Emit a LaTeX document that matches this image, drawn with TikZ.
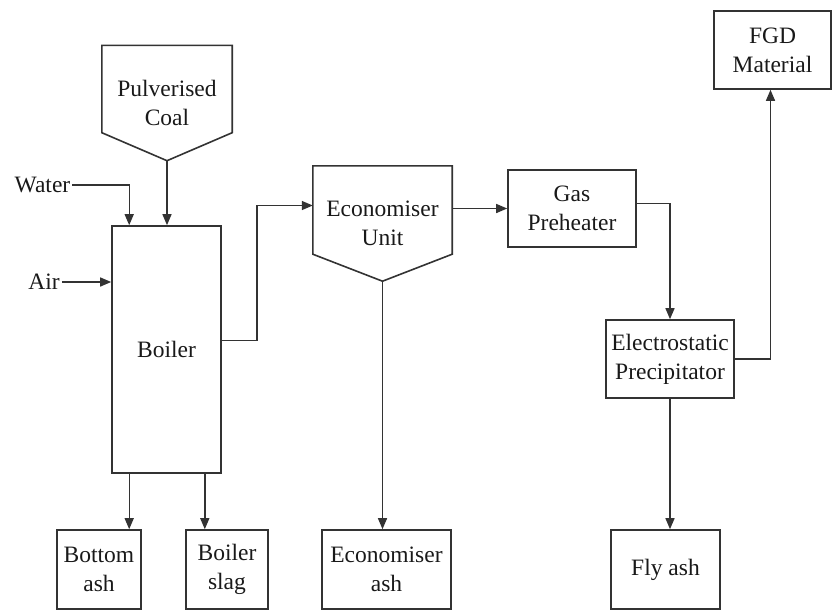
\documentclass[tikz,border=0pt]{standalone}
\usepackage{fontspec}
\setmainfont{Liberation Serif}
\usetikzlibrary{arrows.meta,positioning}
\colorlet{ink}{black!80}
\tikzset{
  box/.style={draw=ink, line width=1.6pt},
  blk/.style={box, align=center, inner sep=2pt, text=black!90, font=\fontsize{23.5}{29}\selectfont},
  hopper/.style={align=center, inner sep=2pt, text=black!90, font=\fontsize{23.5}{29}\selectfont},
  txt/.style={inner sep=2pt, text=black!90, font=\fontsize{23.5}{29}\selectfont},
  flow/.style={draw=ink, line width=1.4pt, -{Triangle[length=11pt,width=9pt]}},
  pipe/.style={draw=ink, line width=1.4pt}}

\begin{document}
\begin{tikzpicture}[x=1pt,y=-1pt]
  \useasboundingbox (0,0) rectangle (833,611);

  \node [hopper, minimum width=130pt, minimum height=115pt] (coal) at (167,103) {Pulverised\\Coal};
  \node [hopper, minimum width=139pt, minimum height=115pt] (econ) at (382.5,223.5) {Economiser\\Unit};
  \foreach \n/\d in {coal/28pt, econ/27pt}
    \draw [box] (\n.north west) -- (\n.north east) -- ([yshift=\d]\n.south east) -- (\n.south) -- ([yshift=\d]\n.south west) -- cycle;

  \node [blk, minimum width=109pt, minimum height=247pt] (boiler) at (166.5,349.5) {Boiler};
  \node [blk, minimum width=128pt, minimum height=77pt] (gas) at (572,208.5) {Gas\\Preheater};
  \node [blk, minimum width=128pt, minimum height=78pt] (esp) at (670,359) {Electrostatic\\Precipitator};
  \node [blk, minimum width=117pt, minimum height=78pt] (fgd) at (772.5,50) {FGD\\Material};

  \node [blk, minimum width=84pt, minimum height=79pt] (botash) at (99,569.5) {Bottom\\ash};
  \node [blk, minimum width=82pt, minimum height=79pt] (slag) at (227,569.5) {Boiler\\slag};
  \node [blk, minimum width=129pt, minimum height=79pt] (ecash) at (386.5,569.5) {Economiser\\ash};
  \node [blk, minimum width=109pt, minimum height=79pt] (flyash) at (665.5,569.5) {Fly ash};

  \node [txt] (water) at (42.5,185) {Water};
  \node [txt] (air) at (44,282) {Air};

  \coordinate (win) at ([xshift=18pt]boiler.north west);
  \coordinate (bout1) at ([xshift=18pt]boiler.south west);
  \coordinate (bout2) at ([xshift=-17pt]boiler.south east);

  \draw [flow] (water.east) -| (win);
  \draw [flow] (air.east) -- (air.east -| boiler.west);
  \draw [flow] (coal.south) -- (coal.south |- boiler.north);
  \draw [flow] ([yshift=9pt]boiler.east) -- ++(35,0) |- ([yshift=18pt]econ.west);
  \draw [flow] (gas.west -| econ.east) -- (gas.west);
  \draw [flow] ([yshift=5pt]gas.east) -| (esp.north);
  \draw [flow] (esp.east) -| ([xshift=-2pt]fgd.south);

  \draw [flow] (bout1) -- (bout1 |- botash.north);
  \draw [flow] (bout2) -- (bout2 |- slag.north);
  \draw [flow] (econ.south) -- (econ.south |- ecash.north);
  \draw [flow] (esp.south) -- (esp.south |- flyash.north);
\end{tikzpicture}
\end{document}
